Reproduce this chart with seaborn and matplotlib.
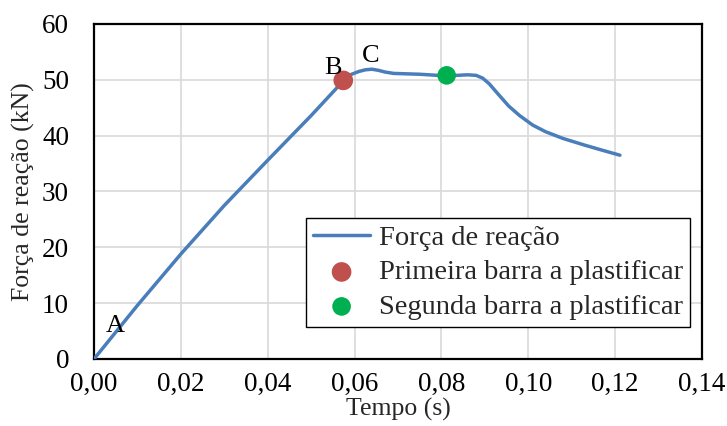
import matplotlib
matplotlib.use("Agg")
import matplotlib.pyplot as plt
from matplotlib.ticker import MultipleLocator, FuncFormatter
import seaborn as sns
import pandas as pd

# Data
tempo = [0.0, 0.010, 0.020, 0.030, 0.040, 0.050, 0.0574, 0.0590, 0.0610, 0.0625,
         0.0640, 0.0655, 0.0670, 0.0690, 0.0750, 0.0812, 0.0860, 0.0880, 0.0895,
         0.0910, 0.0930, 0.0955, 0.0980, 0.1010, 0.1040, 0.1080, 0.1130, 0.1170,
         0.1211]
forca = [0.0, 9.6, 18.8, 27.5, 35.6, 43.6, 49.8, 50.9, 51.5, 51.8,
         51.9, 51.7, 51.4, 51.15, 51.0, 50.7, 50.9, 50.8, 50.3,
         49.3, 47.5, 45.3, 43.6, 41.9, 40.7, 39.5, 38.3, 37.4,
         36.5]
b_t, b_f = [0.0574], [49.9]
s_t, s_f = [0.0812], [50.8]
labels_txt = ["A", "B", "C"]
labels_t = [0.0048, 0.0551, 0.0636]
labels_f = [5.9, 52.2, 54.3]
xticks = [0.00, 0.02, 0.04, 0.06, 0.08, 0.10, 0.12, 0.14]
yticks = [0, 10, 20, 30, 40, 50, 60]

sns.set_theme(style="white")
plt.rcParams['font.family'] = ['Liberation Serif', 'DejaVu Serif']

fig = plt.figure(figsize=(7.27, 4.26), dpi=100)
ax = fig.add_axes([94/727, 1-359/426, 608/727, 335/426])

df = pd.DataFrame({"t": tempo, "F": forca})
sns.lineplot(data=df, x="t", y="F", ax=ax, color="#4A7EBB", lw=2.5,
             label="Força de reação", sort=False, zorder=3)
sns.scatterplot(x=b_t, y=b_f, ax=ax, color="#C0504D", s=200, edgecolor="none",
                label="Primeira barra a plastificar", zorder=4)
sns.scatterplot(x=s_t, y=s_f, ax=ax, color="#00B050", s=180, edgecolor="none",
                label="Segunda barra a plastificar", zorder=4)

for txt, t, f in zip(labels_txt, labels_t, labels_f):
    ax.text(t, f, txt, fontsize=19, ha="center", va="center", color="black", zorder=5)

ax.set_xlim(0, 0.14)
ax.set_ylim(0, 60)
ax.set_xticks(xticks)
ax.set_yticks(yticks)
ax.xaxis.set_minor_locator(MultipleLocator(0.004))
ax.yaxis.set_minor_locator(MultipleLocator(2))
ax.xaxis.set_major_formatter(FuncFormatter(lambda v, p: f"{v:.2f}".replace(".", ",")))
ax.yaxis.set_major_formatter(FuncFormatter(lambda v, p: f"{v:.0f}"))

ax.grid(True, which="major", color="#D9D9D9", lw=1.2, zorder=0)
ax.set_axisbelow(True)
for s in ax.spines.values():
    s.set_visible(True)
    s.set_color("black")
    s.set_linewidth(1.6)

ax.tick_params(axis="both", which="both", direction="in", colors="black",
               labelsize=19.5, width=1.3)
ax.tick_params(which="major", length=6)
ax.tick_params(which="minor", length=4.5)
ax.tick_params(axis="y", which="major", pad=18)
ax.tick_params(axis="x", which="major", pad=9)
ax.tick_params(top=False, right=False, which="both")

ax.set_xlabel("Tempo (s)", fontsize=18.5, labelpad=1)
ax.set_ylabel("Força de reação (kN)", fontsize=18.5, labelpad=5)

leg = ax.legend(loc="lower right", bbox_to_anchor=(0.98, 0.0955), fontsize=20.5,
                frameon=True, fancybox=False, edgecolor="black", framealpha=1,
                handlelength=2.0, handletextpad=0.3, borderpad=0.25,
                labelspacing=0.3, borderaxespad=0)
leg.get_frame().set_linewidth(1.0)

fig.savefig("out.png", dpi=100)
